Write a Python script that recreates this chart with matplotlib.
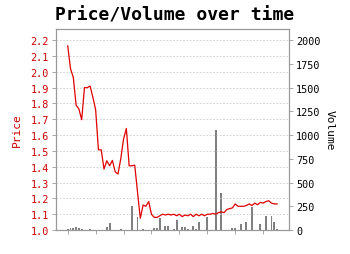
import numpy as np
import matplotlib
matplotlib.use("Agg")
from matplotlib import pyplot as plt

# day index (one point per day), price and volume
days = np.arange(76)
price = [2.164, 2.02, 1.964, 1.79, 1.765, 1.697, 1.90, 1.90, 1.91, 1.84,
         1.76, 1.507, 1.507, 1.385, 1.438, 1.406, 1.44, 1.368, 1.354, 1.45,
         1.575, 1.642, 1.406, 1.406, 1.41, 1.24, 1.074, 1.158, 1.15, 1.18,
         1.10, 1.08, 1.08, 1.09, 1.10, 1.095, 1.10, 1.095, 1.10, 1.09,
         1.10, 1.085, 1.095, 1.09, 1.10, 1.085, 1.10, 1.09, 1.10, 1.09,
         1.10, 1.10, 1.105, 1.10, 1.11, 1.115, 1.11, 1.13, 1.135, 1.14,
         1.165, 1.15, 1.15, 1.15, 1.155, 1.165, 1.155, 1.17, 1.16, 1.175,
         1.17, 1.18, 1.185, 1.17, 1.165, 1.165]
volume = [10, 20, 25, 32, 20, 10, 0, 0, 10, 0,
          0, 0, 0, 0, 32, 70, 5, 0, 0, 10,
          0, 0, 0, 250, 0, 133, 0, 8, 0, 0,
          0, 20, 20, 123, 0, 38, 38, 0, 8, 109,
          0, 28, 28, 10, 0, 45, 10, 80, 0, 0,
          133, 0, 0, 1056, 0, 386, 0, 0, 0, 17,
          17, 0, 63, 0, 88, 0, 245, 0, 0, 63,
          0, 150, 0, 150, 88, 10]
price_ticks = np.arange(1.0, 2.21, 0.1)
vol_ticks = [0, 250, 500, 750, 1000, 1250, 1500, 1750, 2000]

mono = "DejaVu Sans Mono"
red = "#cc0000"
edge = "#999999"

fig = plt.figure(figsize=(3.5, 2.55), dpi=100)
ax = fig.add_axes([0.16, 0.094, 0.666, 0.788])
ax2 = ax.twinx()

ax2.bar(days, volume, width=0.7, color="#808080")
ax.plot(days, price, color="#e00000", lw=0.9)

ax.set_zorder(ax2.get_zorder() + 1)
ax.patch.set_visible(False)

ax.set_xlim(-4.2, 79.3)
ax.set_ylim(1.0, 2.27)
ax2.set_ylim(0, 2116)

ax.set_yticks(price_ticks)
ax.set_yticklabels(["%.1f" % t for t in price_ticks], family=mono, fontsize=7.3, color=red)
ax2.set_yticks(vol_ticks)
ax2.set_yticklabels([str(v) for v in vol_ticks], family=mono, fontsize=7.3)
ax.set_xticks(np.arange(0, 71, 10))
ax.set_xticklabels([])

ax.grid(axis="y", color="#cccccc", ls=(0, (2, 2)), lw=0.6)
for a in (ax, ax2):
    for s in a.spines.values():
        s.set_color(edge)
    a.tick_params(length=3, width=0.6, color=edge, pad=2)

ax.set_ylabel("Price", family=mono, fontsize=8, color=red, labelpad=6)
ax2.set_ylabel("Volume", family=mono, fontsize=8, rotation=270, labelpad=10)
fig.suptitle("Price/Volume over time", family=mono, fontweight="bold", fontsize=13, y=0.975)

fig.savefig("out.png", dpi=100)
